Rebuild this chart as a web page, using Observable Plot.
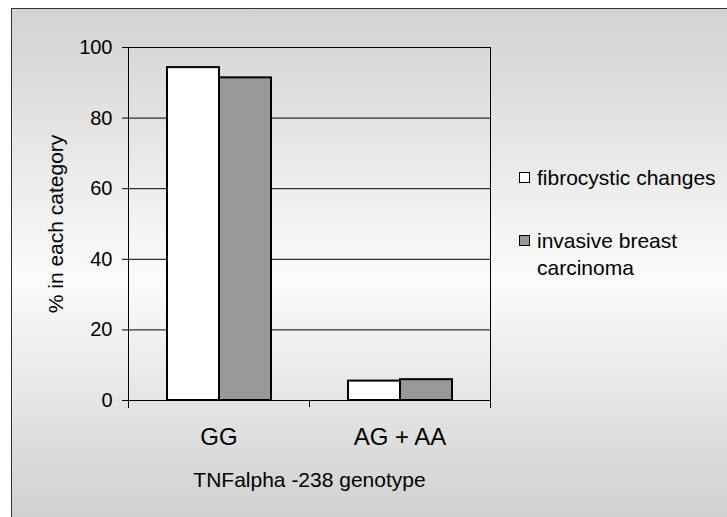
<!DOCTYPE html>
<html><head><meta charset="utf-8">
<script src="https://cdn.jsdelivr.net/npm/d3@7"></script>
<script src="https://cdn.jsdelivr.net/npm/@observablehq/plot@0.6"></script>
<style>
html,body{margin:0;padding:0;width:727px;height:517px;overflow:hidden;background:#fff;font-family:"Liberation Sans",Arial,sans-serif;}
#box{position:absolute;left:11px;top:8px;width:760px;height:560px;border:1px solid #333;background:linear-gradient(to bottom,#d2d2d2 0px,#fbfbfb 270px,#d0d0d0 509px);}
#chart{position:absolute;left:0;top:0;}
#legend{position:absolute;left:519px;top:164px;width:200px;font-size:21px;color:#000;}
.item{display:flex;align-items:flex-start;line-height:27px;margin-bottom:36px;}
.sw{width:9px;height:9px;border:1.5px solid #000;margin-top:8px;margin-right:7px;flex:none;}
</style>
</head><body>
<div id="box"></div>
<div id="chart"></div>
<div id="legend"></div>
<script>
const genotypes = ["GG", "AG + AA"];
const series = ["fibrocystic changes", "invasive breast carcinoma"];
const fibrocystic = [94.3, 5.5];
const invasive = [91.4, 5.9];
const yTicks = [0, 20, 40, 60, 80, 100];
const colors = ["#ffffff", "#999999"];

const data = genotypes.flatMap((g, i) => [
  {genotype: g, series: series[0], value: fibrocystic[i]},
  {genotype: g, series: series[1], value: invasive[i]}
]);

const chart = Plot.plot({
  width: 727, height: 517,
  marginLeft: 128, marginRight: 237, marginTop: 47, marginBottom: 117,
  style: {background: "transparent", fontFamily: '"Liberation Sans", Arial, sans-serif', fontSize: "20px", color: "#000", overflow: "visible"},
  fx: {domain: genotypes, padding: 0, axis: null},
  x: {domain: series, paddingInner: 0, paddingOuter: 0.74, axis: null},
  y: {domain: [0, 100], axis: null},
  color: {domain: series, range: colors},
  marks: [
    Plot.gridY(yTicks, {stroke: "#000", strokeOpacity: 1}),
    Plot.barY(data, {fx: "genotype", x: "series", y: "value", fill: "series", stroke: "#000", strokeWidth: 2}),
    Plot.ruleY([0], {stroke: "#000"}),
    Plot.frame({facet: "super", anchor: "left", insetBottom: -7, stroke: "#000"}),
    Plot.frame({facet: "super", anchor: "right", insetBottom: -7, stroke: "#000"}),
    Plot.axisFx({anchor: "bottom", tickSize: 7, dx: -90.5, text: null, label: null}),
    Plot.axisFx({anchor: "bottom", tickSize: 0, tickPadding: 27, fontSize: 24, label: null}),
    Plot.axisFx({anchor: "bottom", tickSize: 0, text: null, label: "TNFalpha -238 genotype", labelAnchor: "center", labelOffset: 86, fontSize: 21}),
    Plot.axisY(yTicks, {anchor: "left", tickSize: 6, tickPadding: 10, label: null}),
    Plot.axisY(yTicks, {anchor: "left", tickSize: 0, text: null, label: "% in each category", labelAnchor: "center", labelArrow: "none", labelOffset: 80, fontSize: 21})
  ]
});
document.getElementById("chart").appendChild(chart);

const legend = document.getElementById("legend");
series.forEach((s, i) => {
  const item = document.createElement("div");
  item.className = "item";
  const sw = document.createElement("span");
  sw.className = "sw";
  sw.style.background = colors[i];
  const t = document.createElement("span");
  t.textContent = s;
  item.appendChild(sw);
  item.appendChild(t);
  legend.appendChild(item);
});
</script>
</body></html>
